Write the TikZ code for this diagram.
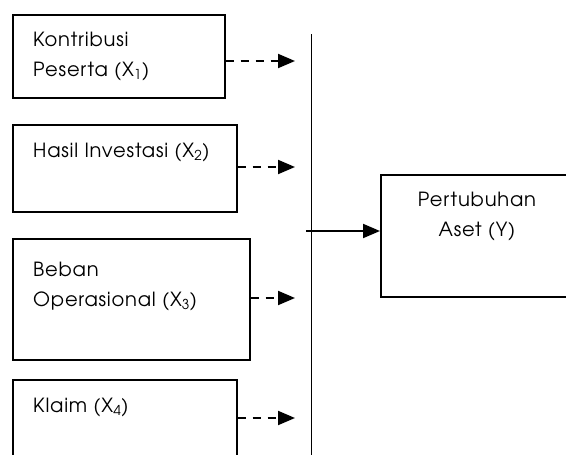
\documentclass[tikz,border=0pt]{standalone}
\usepackage{fontspec}
\setmainfont{TeX Gyre Adventor}[LetterSpace=4]
\usetikzlibrary{arrows.meta}
\begin{document}
\begin{tikzpicture}[x=1pt,y=-1pt,
  box/.style={draw,line width=1.6pt,inner sep=0pt,anchor=north west},
  lbl/.style={inner sep=0pt,anchor=north west,align=left,font=\fontsize{19.5}{30}\selectfont},
  dasharrow/.style={line width=2pt,dash pattern=on 8pt off 7pt,-{Triangle[length=17pt,width=14pt]}},
  solidarrow/.style={line width=2pt,-{Triangle[length=17pt,width=14pt]}}]
\useasboundingbox (0,0) rectangle (566,455);
\clip (0,0) rectangle (566,455);
\node[box,minimum width=212pt,minimum height=83pt] (b1) at (12,14) {};
\node[box,minimum width=224pt,minimum height=87pt] (b2) at (12,124) {};
\node[box,minimum width=237pt,minimum height=121pt] (b3) at (12,238) {};
\node[box,minimum width=224pt,minimum height=100pt] (b4) at (12,379) {};
\node[box,minimum width=194pt,minimum height=122pt] (by) at (380,174) {};
\node[lbl] (t1) at (33,32) {Kontribusi\\Peserta (X\textsubscript{1})};
\node[lbl] (t2) at (33,143) {Hasil Investasi (X\textsubscript{2})};
\node[lbl] (t3) at (33,262) {Beban\\Operasional (X\textsubscript{3})};
\node[lbl] (t4) at (33,398) {Klaim (X\textsubscript{4})};
\node[lbl,anchor=north,align=center] (ty) at (477,192) {Pertubuhan\\Aset (Y)};
\coordinate (vtop) at (311,34);
\coordinate (vbot) at (311,460);
\draw[line width=1pt] (vtop) -- (vbot);
\coordinate (e1) at (295,61);
\coordinate (e2) at (295,167);
\coordinate (e3) at (295,298);
\coordinate (e4) at (295,418);
\draw[dasharrow] (b1.east |- e1) -- (e1);
\draw[dasharrow] (b2.east |- e2) -- (e2);
\draw[dasharrow] (b3.east |- e3) -- (e3);
\draw[dasharrow] (b4.east |- e4) -- (e4);
\coordinate (ys) at (306,231);
\draw[solidarrow] (ys) -- (by.west |- ys);
\end{tikzpicture}
\end{document}
